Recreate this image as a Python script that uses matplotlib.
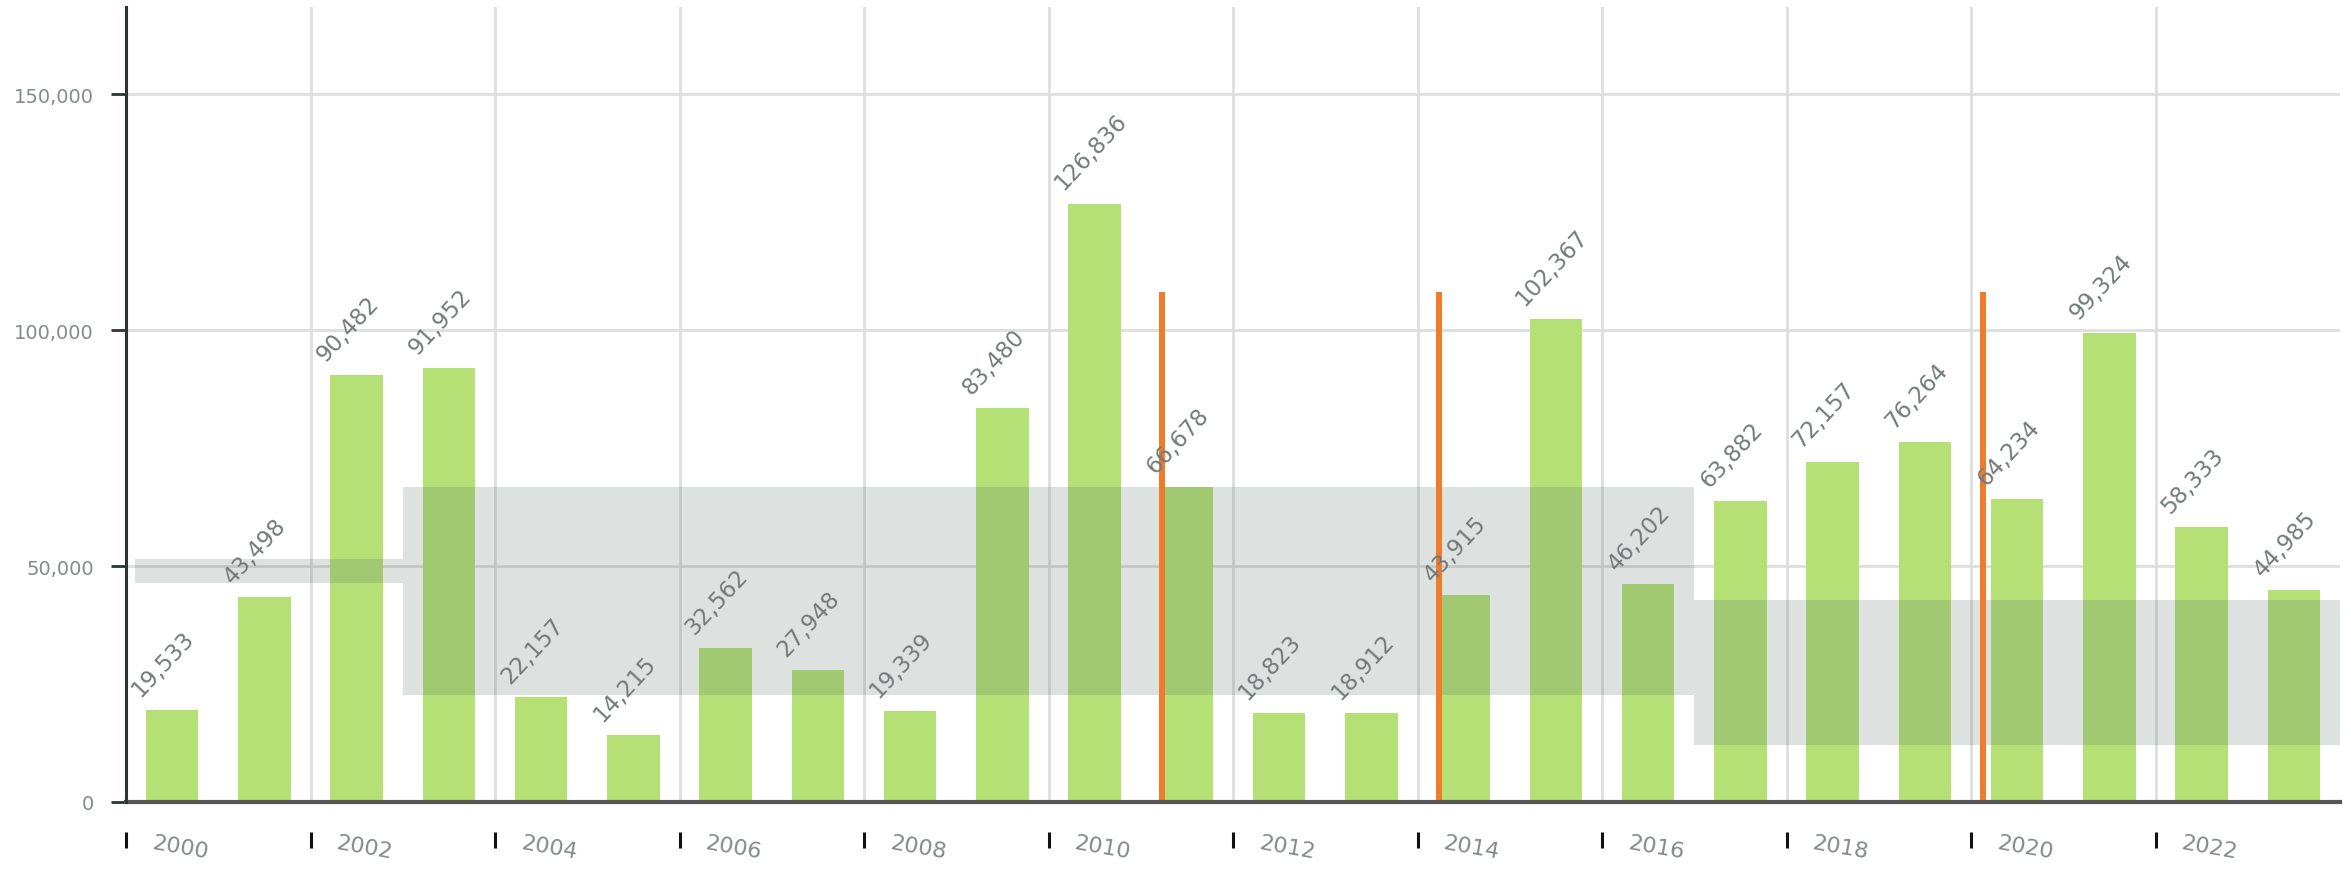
import numpy as np
import matplotlib
matplotlib.use("Agg")
import matplotlib.pyplot as plt
import matplotlib.transforms as mtransforms

# yearly values
years = np.arange(2000, 2024)
values = [19533, 43498, 90482, 91952, 22157, 14215, 32562, 27948, 19339, 83480,
          126836, 66678, 18823, 18912, 43915, 102367, 46202, 63882, 72157, 76264,
          64234, 99324, 58333, 44985]

# shaded period ranges
band_start = [2000.1, 2003.0, 2017.0]
band_end = [2003.0, 2017.0, 2024.0]
band_low = [46400, 22700, 12100]
band_high = [51500, 66700, 42800]

# event markers
event_x = [2011.23, 2014.23, 2020.13]
event_top = 108000

xtick_years = list(range(2000, 2024, 2))
ytick_vals = [0, 50000, 100000, 150000]

fig = plt.figure(figsize=(23.51, 8.70), dpi=100)
ax = fig.add_axes([126 / 2351, 67 / 870, 2214 / 2351, 795 / 870])

# spines first (set_position resets the ticks)
for s in ["top", "right"]:
    ax.spines[s].set_visible(False)
ax.spines["left"].set_color("#2b3532")
ax.spines["left"].set_linewidth(2.2)
ax.spines["left"].set_zorder(5)
ax.spines["bottom"].set_position(("outward", 21.5))
ax.spines["bottom"].set_visible(False)

ax.set_xlim(2000, 2024)
ax.set_ylim(0, 168500)

ax.bar(years + 0.5, values, width=0.57, color="#b5e075", zorder=2)

for x0, x1, lo, hi in zip(band_start, band_end, band_low, band_high):
    ax.fill_between([x0, x1], lo, hi, color="#556e64", alpha=0.2, lw=0, zorder=3)

ax.vlines(event_x, 0, event_top, color="#f07b2b", lw=4.3, zorder=4)

for x, v in zip(years + 0.5, values):
    ax.annotate(f"{v:,}", (x, v), xytext=(-20, 7), textcoords="offset points",
                rotation=47, rotation_mode="anchor", ha="left", va="bottom",
                fontsize=16.5, color="#737a7a", zorder=6)

ax.axhline(0, color="#555555", lw=3, zorder=5, clip_on=False)

# grid and ticks
ax.set_xticks(xtick_years)
ax.set_yticks(ytick_vals)
ax.grid(True, color="#dedede", lw=2, zorder=0)
ax.set_axisbelow(True)

ax.tick_params(axis="y", length=11, width=2, color="#2b3532", pad=12)
ax.tick_params(axis="x", length=11.5, width=2.2, color="#111111", pad=-11)

ax.set_yticklabels([f"{v:,}" for v in ytick_vals], fontsize=14, color="#858a8a")
ax.set_xticklabels([str(y) for y in xtick_years], fontsize=16, color="#858a8a",
                   rotation=-10, ha="left", va="top", rotation_mode="anchor")

offset = mtransforms.ScaledTranslation(0.28, 0, fig.dpi_scale_trans)
for lab in ax.get_xticklabels():
    lab.set_transform(lab.get_transform() + offset)

fig.savefig("out.png", dpi=100)
